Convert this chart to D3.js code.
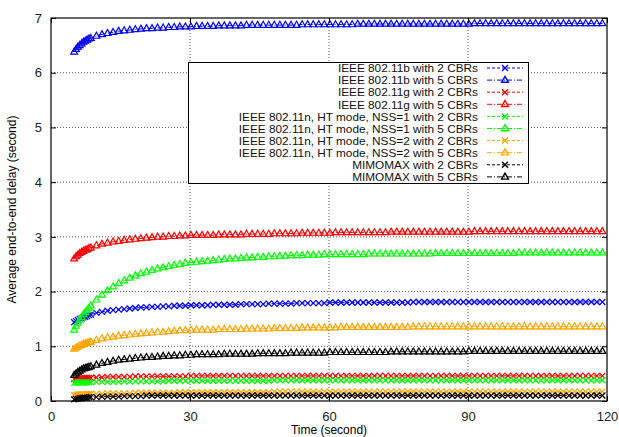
<html>
<head>
<style>
  body { margin: 0; background: #fff; }
  text { font-family: "Liberation Sans", Arial, Helvetica, sans-serif; }
</style>
</head>
<body>
<svg id="chart" width="619" height="437"></svg>
<script src="https://cdn.jsdelivr.net/npm/d3@7"></script>
<script>
// sample times (second), denser at the start
const times = [5, 5.4, 5.8, 6.2, 6.6, 7.0, 7.4, 7.8, 8.2, 8.6,
  9.8, 11, 12.2, 13.4, 14.6, 15.8,
  17, 18.2, 19.4, 20.6, 21.8, 23, 24.2, 25.4, 26.6, 27.8,
  29, 30.2, 31.4, 32.6, 33.8, 35, 36.2, 37.4, 38.6, 39.8,
  41, 42.2, 43.4, 44.6, 45.8, 47, 48.2, 49.4, 50.6, 51.8,
  53, 54.2, 55.4, 56.6, 57.8, 59, 60.2, 61.4, 62.6, 63.8,
  65, 66.2, 67.4, 68.6, 69.8, 71, 72.2, 73.4, 74.6, 75.8,
  77, 78.2, 79.4, 80.6, 81.8, 83, 84.2, 85.4, 86.6, 87.8,
  89, 90.2, 91.4, 92.6, 93.8, 95, 96.2, 97.4, 98.6, 99.8,
  101, 102.2, 103.4, 104.6, 105.8, 107, 108.2, 109.4, 110.6, 111.8,
  113, 114.2, 115.4, 116.6, 117.8, 119]

const b2 = [1.44, 1.46, 1.48, 1.50, 1.51, 1.53, 1.54, 1.55, 1.57, 1.58,
  1.61, 1.63, 1.65, 1.66, 1.67, 1.68,
  1.69, 1.70, 1.71, 1.71, 1.72, 1.72, 1.73, 1.73, 1.74, 1.74,
  1.74, 1.75, 1.75, 1.75, 1.75, 1.76, 1.76, 1.76, 1.76, 1.76,
  1.77, 1.77, 1.77, 1.77, 1.77, 1.78, 1.78, 1.78, 1.78, 1.78,
  1.79, 1.79, 1.79, 1.79, 1.79, 1.79, 1.80, 1.80, 1.80, 1.80,
  1.80, 1.80, 1.80, 1.80, 1.80, 1.80, 1.80, 1.80, 1.80, 1.80,
  1.80, 1.81, 1.81, 1.81, 1.81, 1.81, 1.81, 1.81, 1.81, 1.81,
  1.81, 1.81, 1.81, 1.81, 1.81, 1.81, 1.81, 1.81, 1.81, 1.81,
  1.81, 1.81, 1.81, 1.81, 1.81, 1.81, 1.81, 1.81, 1.81, 1.81,
  1.81, 1.81, 1.81, 1.81, 1.81, 1.81]

const b5 = [6.38, 6.43, 6.47, 6.50, 6.53, 6.56, 6.58, 6.60, 6.62, 6.63,
  6.67, 6.70, 6.72, 6.74, 6.76, 6.77,
  6.78, 6.79, 6.80, 6.81, 6.81, 6.82, 6.82, 6.83, 6.83, 6.84,
  6.84, 6.84, 6.85, 6.85, 6.85, 6.85, 6.86, 6.86, 6.86, 6.86,
  6.86, 6.87, 6.87, 6.87, 6.87, 6.87, 6.87, 6.87, 6.87, 6.87,
  6.87, 6.88, 6.88, 6.88, 6.88, 6.88, 6.88, 6.88, 6.88, 6.88,
  6.88, 6.89, 6.89, 6.89, 6.89, 6.89, 6.89, 6.89, 6.89, 6.89,
  6.89, 6.89, 6.89, 6.89, 6.89, 6.89, 6.89, 6.89, 6.89, 6.89,
  6.89, 6.89, 6.90, 6.90, 6.90, 6.90, 6.90, 6.90, 6.90, 6.90,
  6.90, 6.90, 6.90, 6.90, 6.90, 6.90, 6.90, 6.90, 6.90, 6.90,
  6.90, 6.90, 6.90, 6.90, 6.90, 6.90]

const g2 = [0.40, 0.40, 0.41, 0.41, 0.41, 0.42, 0.42, 0.42, 0.42, 0.42,
  0.43, 0.43, 0.44, 0.44, 0.44, 0.44,
  0.44, 0.45, 0.45, 0.45, 0.45, 0.45, 0.45, 0.45, 0.45, 0.45,
  0.45, 0.46, 0.46, 0.46, 0.46, 0.46, 0.46, 0.46, 0.46, 0.46,
  0.46, 0.46, 0.46, 0.46, 0.46, 0.46, 0.46, 0.46, 0.46, 0.46,
  0.46, 0.46, 0.46, 0.46, 0.46, 0.46, 0.46, 0.46, 0.46, 0.46,
  0.46, 0.46, 0.46, 0.46, 0.46, 0.46, 0.46, 0.46, 0.46, 0.46,
  0.46, 0.46, 0.46, 0.46, 0.46, 0.46, 0.46, 0.46, 0.46, 0.46,
  0.46, 0.46, 0.46, 0.46, 0.46, 0.46, 0.46, 0.46, 0.46, 0.46,
  0.46, 0.46, 0.46, 0.46, 0.46, 0.46, 0.46, 0.46, 0.46, 0.46,
  0.46, 0.46, 0.46, 0.46, 0.46, 0.46]

const g5 = [2.60, 2.64, 2.67, 2.70, 2.72, 2.74, 2.76, 2.77, 2.79, 2.80,
  2.84, 2.87, 2.89, 2.91, 2.92, 2.94,
  2.95, 2.96, 2.97, 2.98, 2.99, 3.00, 3.00, 3.01, 3.01, 3.02,
  3.02, 3.03, 3.03, 3.03, 3.03, 3.03, 3.04, 3.04, 3.04, 3.04,
  3.04, 3.05, 3.05, 3.05, 3.05, 3.05, 3.06, 3.06, 3.06, 3.06,
  3.06, 3.07, 3.07, 3.07, 3.07, 3.07, 3.07, 3.08, 3.08, 3.08,
  3.08, 3.08, 3.08, 3.08, 3.08, 3.08, 3.08, 3.09, 3.09, 3.09,
  3.09, 3.09, 3.09, 3.09, 3.09, 3.09, 3.09, 3.09, 3.09, 3.09,
  3.09, 3.09, 3.10, 3.10, 3.10, 3.10, 3.10, 3.10, 3.10, 3.10,
  3.10, 3.10, 3.10, 3.10, 3.10, 3.10, 3.10, 3.10, 3.10, 3.10,
  3.10, 3.10, 3.10, 3.10, 3.10, 3.10]

const n1s2 = [0.33, 0.33, 0.34, 0.34, 0.34, 0.34, 0.34, 0.34, 0.34, 0.34,
  0.35, 0.35, 0.35, 0.35, 0.35, 0.36,
  0.36, 0.36, 0.36, 0.36, 0.36, 0.36, 0.36, 0.37, 0.37, 0.37,
  0.37, 0.37, 0.37, 0.37, 0.37, 0.37, 0.37, 0.37, 0.37, 0.37,
  0.37, 0.37, 0.37, 0.37, 0.37, 0.37, 0.38, 0.38, 0.38, 0.38,
  0.38, 0.38, 0.38, 0.38, 0.38, 0.38, 0.38, 0.38, 0.38, 0.38,
  0.38, 0.38, 0.38, 0.38, 0.38, 0.38, 0.38, 0.38, 0.38, 0.38,
  0.38, 0.38, 0.38, 0.38, 0.38, 0.38, 0.38, 0.38, 0.38, 0.38,
  0.38, 0.38, 0.38, 0.38, 0.38, 0.38, 0.38, 0.38, 0.38, 0.38,
  0.38, 0.38, 0.38, 0.38, 0.38, 0.38, 0.38, 0.38, 0.38, 0.38,
  0.38, 0.38, 0.38, 0.38, 0.38, 0.38]

const n1s5 = [1.30, 1.37, 1.43, 1.48, 1.53, 1.58, 1.62, 1.66, 1.70, 1.74,
  1.85, 1.94, 2.02, 2.09, 2.15, 2.20,
  2.25, 2.29, 2.33, 2.36, 2.39, 2.42, 2.44, 2.46, 2.48, 2.50,
  2.52, 2.53, 2.54, 2.55, 2.56, 2.57, 2.58, 2.59, 2.60, 2.60,
  2.61, 2.62, 2.62, 2.63, 2.63, 2.64, 2.64, 2.65, 2.65, 2.66,
  2.66, 2.66, 2.67, 2.67, 2.67, 2.68, 2.68, 2.68, 2.68, 2.68,
  2.68, 2.68, 2.68, 2.69, 2.69, 2.69, 2.69, 2.69, 2.69, 2.69,
  2.69, 2.69, 2.69, 2.69, 2.69, 2.70, 2.70, 2.70, 2.70, 2.70,
  2.70, 2.70, 2.70, 2.70, 2.70, 2.70, 2.70, 2.70, 2.70, 2.70,
  2.71, 2.71, 2.71, 2.71, 2.71, 2.71, 2.71, 2.71, 2.71, 2.71,
  2.71, 2.71, 2.71, 2.71, 2.71, 2.71]

const n2s2 = [0.11, 0.11, 0.12, 0.12, 0.12, 0.12, 0.12, 0.13, 0.13, 0.13,
  0.13, 0.13, 0.14, 0.14, 0.14, 0.14,
  0.14, 0.15, 0.15, 0.15, 0.15, 0.15, 0.15, 0.15, 0.15, 0.16,
  0.16, 0.16, 0.16, 0.16, 0.16, 0.16, 0.16, 0.16, 0.16, 0.16,
  0.16, 0.16, 0.16, 0.16, 0.16, 0.16, 0.17, 0.17, 0.17, 0.17,
  0.17, 0.17, 0.17, 0.17, 0.17, 0.17, 0.17, 0.17, 0.17, 0.17,
  0.17, 0.17, 0.17, 0.17, 0.17, 0.17, 0.17, 0.17, 0.17, 0.17,
  0.17, 0.17, 0.17, 0.17, 0.17, 0.17, 0.17, 0.17, 0.17, 0.17,
  0.17, 0.17, 0.17, 0.17, 0.17, 0.17, 0.17, 0.17, 0.17, 0.17,
  0.17, 0.17, 0.17, 0.17, 0.17, 0.17, 0.17, 0.17, 0.17, 0.17,
  0.17, 0.17, 0.17, 0.17, 0.17, 0.17]

const n2s5 = [0.95, 0.97, 0.99, 1.01, 1.02, 1.04, 1.05, 1.06, 1.07, 1.08,
  1.11, 1.14, 1.16, 1.17, 1.19, 1.20,
  1.21, 1.22, 1.23, 1.24, 1.25, 1.26, 1.26, 1.27, 1.28, 1.29,
  1.29, 1.30, 1.30, 1.30, 1.30, 1.30, 1.31, 1.31, 1.31, 1.31,
  1.31, 1.32, 1.32, 1.32, 1.32, 1.32, 1.33, 1.33, 1.33, 1.33,
  1.33, 1.34, 1.34, 1.34, 1.34, 1.34, 1.34, 1.34, 1.35, 1.35,
  1.35, 1.35, 1.35, 1.35, 1.35, 1.35, 1.35, 1.35, 1.35, 1.35,
  1.35, 1.36, 1.36, 1.36, 1.36, 1.36, 1.36, 1.36, 1.36, 1.36,
  1.36, 1.36, 1.36, 1.36, 1.36, 1.36, 1.36, 1.36, 1.36, 1.36,
  1.36, 1.36, 1.36, 1.36, 1.36, 1.36, 1.36, 1.36, 1.36, 1.36,
  1.36, 1.36, 1.36, 1.36, 1.36, 1.36]

const mm2 = [0.03, 0.04, 0.04, 0.05, 0.05, 0.06, 0.06, 0.06, 0.07, 0.07,
  0.07, 0.08, 0.08, 0.08, 0.08, 0.09,
  0.09, 0.09, 0.09, 0.10, 0.10, 0.10, 0.10, 0.10, 0.10, 0.10,
  0.10, 0.10, 0.10, 0.10, 0.10, 0.10, 0.10, 0.10, 0.10, 0.10,
  0.10, 0.10, 0.10, 0.10, 0.10, 0.10, 0.10, 0.10, 0.10, 0.10,
  0.10, 0.10, 0.10, 0.10, 0.10, 0.10, 0.10, 0.10, 0.10, 0.10,
  0.10, 0.10, 0.10, 0.10, 0.10, 0.10, 0.10, 0.10, 0.10, 0.10,
  0.10, 0.10, 0.10, 0.10, 0.10, 0.10, 0.10, 0.10, 0.10, 0.10,
  0.10, 0.10, 0.10, 0.10, 0.10, 0.10, 0.10, 0.10, 0.10, 0.10,
  0.10, 0.10, 0.10, 0.10, 0.10, 0.10, 0.10, 0.10, 0.10, 0.10,
  0.10, 0.10, 0.10, 0.10, 0.10, 0.10]

const mm5 = [0.47, 0.50, 0.53, 0.55, 0.57, 0.59, 0.60, 0.61, 0.62, 0.63,
  0.66, 0.69, 0.71, 0.73, 0.75, 0.76,
  0.77, 0.78, 0.79, 0.80, 0.80, 0.81, 0.82, 0.82, 0.83, 0.83,
  0.84, 0.84, 0.85, 0.85, 0.85, 0.85, 0.85, 0.86, 0.86, 0.86,
  0.86, 0.86, 0.86, 0.87, 0.87, 0.87, 0.87, 0.87, 0.87, 0.88,
  0.88, 0.88, 0.88, 0.88, 0.88, 0.88, 0.89, 0.89, 0.89, 0.89,
  0.89, 0.89, 0.89, 0.89, 0.89, 0.89, 0.89, 0.90, 0.90, 0.90,
  0.90, 0.90, 0.90, 0.90, 0.90, 0.90, 0.90, 0.90, 0.90, 0.90,
  0.90, 0.91, 0.91, 0.91, 0.91, 0.91, 0.91, 0.91, 0.91, 0.91,
  0.91, 0.91, 0.91, 0.91, 0.91, 0.91, 0.91, 0.91, 0.91, 0.91,
  0.91, 0.91, 0.91, 0.91, 0.91, 0.91]

const labels = ["IEEE 802.11b with 2 CBRs", "IEEE 802.11b with 5 CBRs",
  "IEEE 802.11g with 2 CBRs", "IEEE 802.11g with 5 CBRs",
  "IEEE 802.11n, HT mode, NSS=1 with 2 CBRs", "IEEE 802.11n, HT mode, NSS=1 with 5 CBRs",
  "IEEE 802.11n, HT mode, NSS=2 with 2 CBRs", "IEEE 802.11n, HT mode, NSS=2 with 5 CBRs",
  "MIMOMAX with 2 CBRs", "MIMOMAX with 5 CBRs"]
const xTicks = [0, 30, 60, 90, 120]
const yTicks = [0, 1, 2, 3, 4, 5, 6, 7]

const allValues = [b2, b5, g2, g5, n1s2, n1s5, n2s2, n2s5, mm2, mm5]
const colors = ["#0000ff", "#0000ff", "#ff0000", "#ff0000", "#00ff00", "#00ff00",
  "#ffa500", "#ffa500", "#000000", "#000000"]

let series = labels.map((name, i) => ({
    name: name,
    color: colors[i],
    marker: i % 2 == 0 ? "x" : "tri",
    dash: i % 2 == 0 ? "3,2" : "5,2,1,2",
    points: times.map((t, j) => ({ t: t, v: allValues[i][j] }))
}))

let svg = d3.select("#chart")
let pLeft = 51, pRight = 607, pTop = 18, pBottom = 401

let x = d3.scaleLinear().domain([0, 120]).range([pLeft, pRight])
let y = d3.scaleLinear().domain([0, 7]).range([pBottom, pTop])

// grid
svg.append("g").selectAll("line").data(xTicks.slice(1, -1)).enter()
    .append("line")
    .attr("x1", d => x(d)).attr("x2", d => x(d))
    .attr("y1", pTop).attr("y2", pBottom)
    .attr("stroke", "#555").attr("stroke-dasharray", "1,2")
svg.append("g").selectAll("line").data(yTicks.slice(1, -1)).enter()
    .append("line")
    .attr("x1", pLeft).attr("x2", pRight)
    .attr("y1", d => y(d)).attr("y2", d => y(d))
    .attr("stroke", "#555").attr("stroke-dasharray", "1,2")

function markerPath(type) {
    if (type == "x") return "M-3,-3L3,3M-3,3L3,-3"
    return "M0,-3.8L3.4,2.2L-3.4,2.2Z"
}

let line = d3.line().x(d => x(d.t)).y(d => y(d.v))

let plot = svg.append("g")
series.forEach(s => {
    plot.append("path")
        .datum(s.points)
        .attr("d", line)
        .attr("fill", "none")
        .attr("stroke", s.color)
        .attr("stroke-width", 1)
        .attr("stroke-dasharray", s.dash)
    plot.append("g").selectAll("path").data(s.points).enter()
        .append("path")
        .attr("transform", d => "translate(" + x(d.t) + "," + y(d.v) + ")")
        .attr("d", markerPath(s.marker))
        .attr("fill", "none")
        .attr("stroke", s.color)
        .attr("stroke-width", 1.2)
})

// axes (gnuplot style: inward ticks, mirrored)
svg.append("g").attr("transform", "translate(0," + pBottom + ")")
    .call(d3.axisBottom(x).tickValues(xTicks).tickSizeInner(-5).tickSizeOuter(0).tickPadding(11))
svg.append("g").attr("transform", "translate(" + pLeft + ",0)")
    .call(d3.axisLeft(y).tickValues(yTicks).tickSizeInner(-5).tickSizeOuter(0).tickPadding(9)
        .tickFormat(d3.format("d")))
svg.append("g").attr("transform", "translate(0," + pTop + ")")
    .call(d3.axisTop(x).tickValues(xTicks).tickSizeInner(-5).tickSizeOuter(0).tickFormat(""))
svg.append("g").attr("transform", "translate(" + pRight + ",0)")
    .call(d3.axisRight(y).tickValues(yTicks).tickSizeInner(-5).tickSizeOuter(0).tickFormat(""))
svg.selectAll(".domain").remove()
svg.selectAll(".tick text").attr("font-size", 13).attr("fill", "#222")
    .style("font-family", "'Liberation Sans', Arial, sans-serif")

svg.append("rect")
    .attr("x", pLeft).attr("y", pTop)
    .attr("width", pRight - pLeft).attr("height", pBottom - pTop)
    .attr("fill", "none").attr("stroke", "#000").attr("stroke-width", 1.2)

// legend
let legend = svg.append("g")
legend.append("rect")
    .attr("x", 188.5).attr("y", 62.5).attr("width", 340).attr("height", 121)
    .attr("fill", "#fff").attr("stroke", "#000")
let rows = legend.selectAll("g.row").data(series).enter()
    .append("g").attr("class", "row")
    .attr("transform", (d, i) => "translate(0," + (68 + i * 12.1) + ")")
rows.append("text")
    .attr("x", 478).attr("y", 4.2)
    .attr("text-anchor", "end")
    .attr("font-size", 11.8)
    .attr("fill", "#111")
    .text(d => d.name)
rows.append("line")
    .attr("x1", 487).attr("x2", 523)
    .attr("stroke", d => d.color)
    .attr("stroke-dasharray", d => d.dash)
rows.append("path")
    .attr("transform", "translate(505,0)")
    .attr("d", d => markerPath(d.marker))
    .attr("fill", "none")
    .attr("stroke", d => d.color)
    .attr("stroke-width", 1.4)

// axis titles
svg.append("text")
    .attr("x", (pLeft + pRight) / 2).attr("y", 434)
    .attr("text-anchor", "middle")
    .attr("font-size", 12)
    .text("Time (second)")
svg.append("text")
    .attr("transform", "translate(16," + ((pTop + pBottom) / 2) + ") rotate(-90)")
    .attr("text-anchor", "middle")
    .attr("font-size", 12)
    .text("Average end-to-end delay (second)")
</script>
</body>
</html>
